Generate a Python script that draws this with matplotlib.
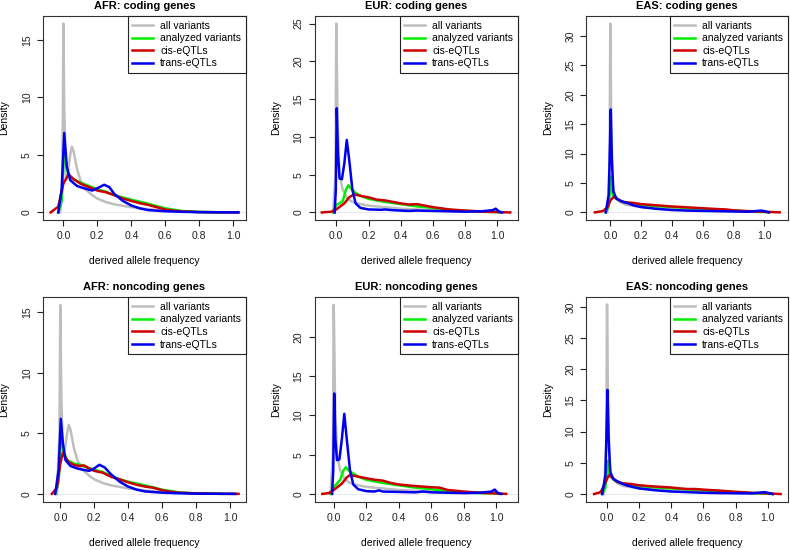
import matplotlib
matplotlib.use("Agg")
import matplotlib.pyplot as plt

plt.rcParams['font.family'] = ['Liberation Sans', 'DejaVu Sans']

titles = ["AFR: coding genes", "EUR: coding genes", "EAS: coding genes",
          "AFR: noncoding genes", "EUR: noncoding genes", "EAS: noncoding genes"]
series_names = ["all variants", "analyzed variants", "cis-eQTLs", "trans-eQTLs"]
series_colors = ["#BEBEBE", "#00EE00", "#CD0000", "#0000EE"]

# ---------- AFR coding ----------
afr_cod_all_x = [-0.02, -0.01, -0.003, 0.0, 0.005, 0.015, 0.025, 0.04, 0.05, 0.06, 0.08, 0.1, 0.13, 0.17, 0.2, 0.25, 0.3, 0.4, 0.5, 0.6, 0.7, 0.8, 0.9, 1.0, 1.03]
afr_cod_all_y = [0, 1, 8, 16.4, 9, 3.0, 3.2, 5.0, 5.7, 5.3, 3.8, 2.8, 2.0, 1.5, 1.2, 0.9, 0.7, 0.45, 0.28, 0.15, 0.08, 0.04, 0.02, 0.01, 0]
afr_cod_ana_x = [-0.03, -0.01, 0.005, 0.02, 0.04, 0.1, 0.15, 0.2, 0.25, 0.3, 0.4, 0.5, 0.6, 0.7, 0.8, 0.95]
afr_cod_ana_y = [0, 1, 5.6, 3.8, 3.0, 2.6, 2.3, 2.0, 1.8, 1.5, 1.1, 0.75, 0.35, 0.12, 0.04, 0]
afr_cod_cis_x = [-0.075, -0.03, 0.0, 0.03, 0.06, 0.1, 0.15, 0.2, 0.25, 0.3, 0.35, 0.4, 0.45, 0.5, 0.55, 0.6, 0.65, 0.7, 0.8, 0.9, 1.03]
afr_cod_cis_y = [0, 0.5, 2.5, 3.3, 2.9, 2.5, 2.2, 1.9, 1.75, 1.5, 1.2, 1.0, 0.8, 0.65, 0.45, 0.25, 0.15, 0.08, 0.03, 0.01, 0]
afr_cod_trans_x = [-0.03, -0.01, 0.005, 0.02, 0.04, 0.08, 0.12, 0.17, 0.2, 0.24, 0.27, 0.3, 0.35, 0.4, 0.45, 0.5, 0.6, 0.7, 0.8, 1.03]
afr_cod_trans_y = [0, 2, 6.9, 4.0, 2.8, 2.3, 2.1, 1.9, 2.1, 2.4, 2.2, 1.6, 1.0, 0.6, 0.35, 0.2, 0.1, 0.05, 0.02, 0]

# ---------- EUR coding ----------
eur_cod_all_x = [-0.02, -0.005, 0.0, 0.008, 0.02, 0.04, 0.07, 0.1, 0.15, 0.2, 0.3, 0.4, 0.5, 0.6, 0.7, 0.8, 0.9, 1.0, 1.02]
eur_cod_all_y = [0, 5, 25, 12, 5, 3, 1.8, 1.4, 1.1, 0.9, 0.7, 0.5, 0.4, 0.3, 0.2, 0.15, 0.1, 0.3, 0]
eur_cod_ana_x = [-0.02, 0.0, 0.02, 0.04, 0.06, 0.075, 0.09, 0.12, 0.15, 0.2, 0.3, 0.4, 0.5, 0.6, 0.7, 0.8, 0.9, 1.0, 1.02]
eur_cod_ana_y = [0, 1.0, 1.2, 1.5, 3.0, 3.6, 3.2, 2.6, 2.2, 1.8, 1.4, 1.1, 0.8, 0.6, 0.35, 0.2, 0.1, 0.05, 0]
eur_cod_cis_x = [-0.09, -0.03, 0.0, 0.05, 0.08, 0.11, 0.15, 0.2, 0.25, 0.3, 0.35, 0.4, 0.45, 0.5, 0.55, 0.6, 0.7, 0.8, 0.85, 0.9, 1.0, 1.08]
eur_cod_cis_y = [0, 0.1, 0.4, 1.2, 2.0, 2.4, 2.2, 2.0, 1.7, 1.6, 1.4, 1.2, 1.05, 1.1, 0.9, 0.7, 0.4, 0.25, 0.2, 0.1, 0.05, 0]
eur_cod_trans_x = [-0.01, -0.003, 0.003, 0.01, 0.02, 0.035, 0.05, 0.065, 0.08, 0.1, 0.12, 0.15, 0.2, 0.28, 0.3, 0.35, 0.45, 0.5, 0.6, 0.7, 0.8, 0.9, 0.97, 0.99, 1.01, 1.03]
eur_cod_trans_y = [0, 3, 13.8, 8, 4.5, 4.4, 6.5, 9.6, 7, 3.0, 1.2, 0.6, 0.4, 0.35, 0.4, 0.3, 0.2, 0.25, 0.2, 0.15, 0.1, 0.15, 0.3, 0.5, 0.1, 0]

# ---------- EAS coding ----------
eas_cod_all_x = [-0.02, -0.005, 0.0, 0.006, 0.015, 0.03, 0.06, 0.1, 0.2, 0.3, 0.4, 0.5, 0.6, 0.7, 0.8, 0.9, 1.0, 1.03]
eas_cod_all_y = [0, 8, 32.1, 15, 5, 2.8, 1.8, 1.3, 0.9, 0.7, 0.5, 0.4, 0.35, 0.3, 0.2, 0.1, 0.1, 0]
eas_cod_ana_x = [-0.03, -0.01, 0.003, 0.015, 0.04, 0.08, 0.15, 0.2, 0.3, 0.4, 0.5, 0.6, 0.7, 0.8, 0.9, 1.0, 1.03]
eas_cod_ana_y = [0, 1, 6.1, 3, 2.3, 1.8, 1.5, 1.3, 1.05, 0.9, 0.75, 0.6, 0.45, 0.3, 0.15, 0.05, 0]
eas_cod_cis_x = [-0.1, -0.05, -0.02, 0.0, 0.02, 0.04, 0.07, 0.1, 0.15, 0.2, 0.3, 0.4, 0.5, 0.6, 0.7, 0.75, 0.8, 0.9, 1.0, 1.1]
eas_cod_cis_y = [0, 0.2, 0.8, 2.0, 2.6, 2.4, 1.9, 1.7, 1.6, 1.4, 1.2, 1.0, 0.85, 0.7, 0.55, 0.5, 0.35, 0.2, 0.1, 0]
eas_cod_trans_x = [-0.03, -0.01, 0.003, 0.01, 0.02, 0.04, 0.08, 0.12, 0.15, 0.2, 0.3, 0.4, 0.5, 0.6, 0.7, 0.8, 0.9, 0.98, 1.0, 1.03]
eas_cod_trans_y = [0, 3, 17.5, 9, 3.5, 2.3, 1.8, 1.5, 1.2, 0.9, 0.6, 0.4, 0.3, 0.25, 0.2, 0.15, 0.1, 0.3, 0.2, 0]

# ---------- AFR noncoding ----------
afr_nc_all_x = [-0.02, -0.005, 0.0, 0.006, 0.015, 0.025, 0.04, 0.05, 0.06, 0.08, 0.1, 0.13, 0.17, 0.2, 0.25, 0.3, 0.4, 0.5, 0.6, 0.7, 0.8, 0.9, 1.03]
afr_nc_all_y = [0, 5, 15.6, 8, 3.5, 3.5, 5.0, 5.7, 5.3, 3.8, 2.8, 2.0, 1.5, 1.2, 0.9, 0.7, 0.45, 0.28, 0.15, 0.08, 0.04, 0.02, 0]
afr_nc_ana_x = [-0.03, -0.01, 0.005, 0.02, 0.04, 0.08, 0.12, 0.15, 0.2, 0.25, 0.3, 0.35, 0.4, 0.5, 0.6, 0.7, 0.8, 0.95]
afr_nc_ana_y = [0, 1, 4.8, 3.5, 2.8, 2.5, 2.4, 2.2, 2.0, 1.8, 1.5, 1.2, 1.0, 0.7, 0.35, 0.12, 0.04, 0]
afr_nc_cis_x = [-0.05, -0.02, 0.0, 0.015, 0.03, 0.05, 0.08, 0.11, 0.14, 0.17, 0.2, 0.25, 0.3, 0.35, 0.4, 0.45, 0.5, 0.55, 0.6, 0.65, 0.7, 0.8, 0.9, 1.05]
afr_nc_cis_y = [0, 0.5, 2.5, 3.4, 3.0, 2.6, 2.4, 2.3, 2.35, 2.1, 1.9, 1.75, 1.4, 1.2, 0.95, 0.75, 0.6, 0.5, 0.3, 0.18, 0.1, 0.04, 0.01, 0]
afr_nc_trans_x = [-0.03, -0.01, 0.003, 0.015, 0.03, 0.06, 0.1, 0.13, 0.17, 0.2, 0.23, 0.26, 0.3, 0.35, 0.4, 0.45, 0.5, 0.6, 0.7, 0.8, 1.03]
afr_nc_trans_y = [0, 2, 6.2, 4.2, 2.8, 2.3, 2.1, 2.0, 1.9, 2.1, 2.4, 2.2, 1.6, 1.0, 0.6, 0.35, 0.2, 0.1, 0.05, 0.02, 0]

# ---------- EUR noncoding ----------
eur_nc_all_x = [-0.02, -0.005, 0.0, 0.008, 0.02, 0.04, 0.07, 0.1, 0.15, 0.2, 0.3, 0.4, 0.5, 0.6, 0.7, 0.8, 0.9, 1.0, 1.02]
eur_nc_all_y = [0, 5, 24.1, 12, 5, 3, 1.8, 1.4, 1.1, 0.9, 0.7, 0.5, 0.4, 0.3, 0.2, 0.15, 0.1, 0.3, 0]
eur_nc_ana_x = [-0.02, 0.0, 0.02, 0.04, 0.06, 0.075, 0.09, 0.12, 0.15, 0.2, 0.3, 0.4, 0.5, 0.6, 0.7, 0.8, 0.9, 1.0, 1.02]
eur_nc_ana_y = [0, 0.9, 1.3, 1.8, 3.0, 3.4, 3.0, 2.6, 2.2, 1.8, 1.4, 1.1, 0.8, 0.6, 0.35, 0.2, 0.1, 0.05, 0]
eur_nc_cis_x = [-0.07, -0.03, 0.0, 0.05, 0.08, 0.1, 0.15, 0.2, 0.25, 0.3, 0.35, 0.4, 0.5, 0.6, 0.65, 0.7, 0.8, 0.9, 1.0, 1.06]
eur_nc_cis_y = [0, 0.1, 0.5, 1.3, 2.1, 2.4, 2.2, 2.0, 1.8, 1.7, 1.4, 1.2, 1.0, 0.85, 0.8, 0.5, 0.3, 0.15, 0.05, 0]
eur_nc_trans_x = [-0.01, -0.003, 0.003, 0.01, 0.02, 0.035, 0.05, 0.065, 0.08, 0.1, 0.12, 0.15, 0.2, 0.25, 0.28, 0.3, 0.4, 0.5, 0.55, 0.6, 0.7, 0.8, 0.9, 0.97, 0.99, 1.01, 1.03]
eur_nc_trans_y = [0, 3, 12.8, 7, 4.3, 4.4, 7, 10.2, 7, 3.0, 1.2, 0.6, 0.35, 0.3, 0.45, 0.3, 0.25, 0.2, 0.3, 0.2, 0.15, 0.1, 0.15, 0.3, 0.55, 0.1, 0]

# ---------- EAS noncoding ----------
eas_nc_all_x = [-0.02, -0.005, 0.0, 0.006, 0.015, 0.03, 0.06, 0.1, 0.2, 0.3, 0.4, 0.5, 0.6, 0.7, 0.8, 0.9, 1.0, 1.03]
eas_nc_all_y = [0, 8, 30.4, 15, 5, 2.8, 1.8, 1.3, 0.9, 0.7, 0.5, 0.4, 0.35, 0.3, 0.2, 0.1, 0.1, 0]
eas_nc_ana_x = [-0.03, -0.01, 0.003, 0.015, 0.04, 0.08, 0.15, 0.2, 0.3, 0.4, 0.5, 0.6, 0.7, 0.8, 0.9, 1.0, 1.03]
eas_nc_ana_y = [0, 1, 5.3, 3, 2.3, 1.8, 1.5, 1.3, 1.05, 0.9, 0.75, 0.6, 0.45, 0.3, 0.15, 0.05, 0]
eas_nc_cis_x = [-0.08, -0.04, -0.01, 0.01, 0.03, 0.06, 0.1, 0.15, 0.2, 0.3, 0.4, 0.45, 0.5, 0.55, 0.6, 0.7, 0.8, 0.9, 1.0, 1.08]
eas_nc_cis_y = [0, 0.3, 1.8, 3.0, 2.7, 2.0, 1.7, 1.6, 1.4, 1.2, 1.05, 0.9, 0.8, 0.8, 0.7, 0.55, 0.35, 0.2, 0.1, 0]
eas_nc_trans_x = [-0.03, -0.01, 0.003, 0.01, 0.02, 0.04, 0.08, 0.12, 0.15, 0.2, 0.3, 0.4, 0.5, 0.6, 0.7, 0.8, 0.9, 0.98, 1.0, 1.03]
eas_nc_trans_y = [0, 3, 16.7, 9, 3.5, 2.4, 1.8, 1.4, 1.2, 0.9, 0.6, 0.4, 0.3, 0.2, 0.15, 0.12, 0.1, 0.3, 0.2, 0]

x_ticks = [0.0, 0.2, 0.4, 0.6, 0.8, 1.0]
x_tick_labels = ["0.0", "0.2", "0.4", "0.6", "0.8", "1.0"]
y_ticks = [[0, 5, 10, 15], [0, 5, 10, 15, 20, 25], [0, 5, 10, 15, 20, 25, 30],
           [0, 5, 10, 15], [0, 5, 10, 15, 20], [0, 5, 10, 15, 20, 25, 30]]

panels = [
    [(afr_cod_all_x, afr_cod_all_y), (afr_cod_ana_x, afr_cod_ana_y), (afr_cod_cis_x, afr_cod_cis_y), (afr_cod_trans_x, afr_cod_trans_y)],
    [(eur_cod_all_x, eur_cod_all_y), (eur_cod_ana_x, eur_cod_ana_y), (eur_cod_cis_x, eur_cod_cis_y), (eur_cod_trans_x, eur_cod_trans_y)],
    [(eas_cod_all_x, eas_cod_all_y), (eas_cod_ana_x, eas_cod_ana_y), (eas_cod_cis_x, eas_cod_cis_y), (eas_cod_trans_x, eas_cod_trans_y)],
    [(afr_nc_all_x, afr_nc_all_y), (afr_nc_ana_x, afr_nc_ana_y), (afr_nc_cis_x, afr_nc_cis_y), (afr_nc_trans_x, afr_nc_trans_y)],
    [(eur_nc_all_x, eur_nc_all_y), (eur_nc_ana_x, eur_nc_ana_y), (eur_nc_cis_x, eur_nc_cis_y), (eur_nc_trans_x, eur_nc_trans_y)],
    [(eas_nc_all_x, eas_nc_all_y), (eas_nc_ana_x, eas_nc_ana_y), (eas_nc_cis_x, eas_nc_cis_y), (eas_nc_trans_x, eas_nc_trans_y)],
]

# layout (figure fractions) and axis limits
W, H = 790, 550
col_px = [(43, 246), (314.7, 518), (586.3, 788)]
row_px = [(16, 220), (297, 501.5)]
xlims = [(-0.12, 1.075), (-0.134, 1.128), (-0.156, 1.154),
         (-0.102, 1.094), (-0.117, 1.133), (-0.129, 1.126)]
ylims = [(-0.66, 17.06), (-1.0, 26.0), (-1.3, 33.4),
         (-0.63, 16.26), (-0.97, 25.1), (-1.2, 31.6)]

fig = plt.figure(figsize=(W / 100, H / 100), dpi=100)
for i in range(6):
    r, c = divmod(i, 3)
    x0, x1 = col_px[c]
    t0, b0 = row_px[r]
    ax = fig.add_axes([x0 / W, 1 - b0 / H, (x1 - x0) / W, (b0 - t0) / H])
    ax.axhline(0, color="#E6E6E6", lw=0.6, zorder=1)
    for k, (xs, ys) in enumerate(panels[i]):
        ax.plot(xs, ys, color=series_colors[k], lw=1.8, label=series_names[k],
                solid_joinstyle="round", zorder=2 + k)
    ax.set_xlim(*xlims[i])
    ax.set_ylim(*ylims[i])
    ax.set_xticks(x_ticks)
    ax.set_xticklabels(x_tick_labels)
    ax.set_yticks(y_ticks[i])
    ax.set_yticklabels([str(v) for v in y_ticks[i]], rotation=90, va="center")
    ax.tick_params(direction="out", length=4.5, width=0.8, labelsize=7.5, pad=3.5,
                   colors="#222222")
    for s in ax.spines.values():
        s.set_linewidth(0.8)
        s.set_color("#333333")
    ax.set_title(titles[i], fontsize=8, fontweight="bold", pad=5)
    ax.set_xlabel("derived allele frequency", fontsize=7.5, labelpad=11)
    ax.set_ylabel("Density", fontsize=7.5, labelpad=9)
    leg = ax.legend(loc="upper right", fontsize=7.5, frameon=True, fancybox=False,
                    edgecolor="#222222", framealpha=1, borderaxespad=0,
                    handlelength=2.0, handletextpad=0.7, labelspacing=0.25,
                    borderpad=0.45)
    leg.get_frame().set_linewidth(0.8)

fig.savefig("out.png", dpi=100)
